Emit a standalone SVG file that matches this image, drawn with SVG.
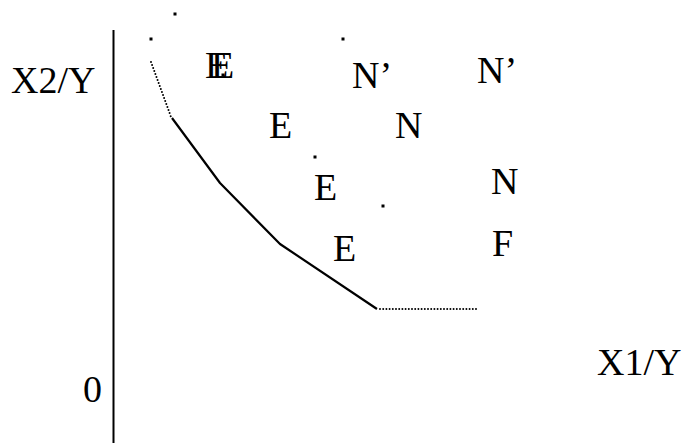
<svg xmlns="http://www.w3.org/2000/svg" width="682" height="443" viewBox="0 0 682 443">
<style>
text{font-family:"Liberation Serif","Times New Roman",serif;font-size:38px;fill:#000}
.solid{fill:none;stroke:#000;stroke-width:2.2;stroke-linejoin:round}
.dot{fill:none;stroke:#000;stroke-width:2;stroke-linecap:round;stroke-dasharray:0 3.2}
</style>
<rect width="682" height="443" fill="#fff"/>
<g id="axes">
<line x1="113.5" y1="30" x2="113.5" y2="443" stroke="#000" stroke-width="2"/>
</g>
<g id="labels">
<text x="11" y="93">X2/Y</text>
<text x="83" y="402">0</text>
<text x="597" y="375">X1/Y</text>
</g>
<g id="connectors">
<polyline class="solid" points="172,118 220,183 280,244 377,309"/>
<line class="dot" x1="151" y1="62" x2="171" y2="117"/>
<line class="dot" x1="380" y1="309" x2="477" y2="309"/>
</g>
<g id="points">
<rect x="173.5" y="12.5" width="3" height="3"/>
<rect x="149.5" y="37.5" width="3" height="3"/>
<rect x="341.5" y="37.5" width="3" height="3"/>
<rect x="313.5" y="155.5" width="3" height="3"/>
<rect x="381.5" y="204.5" width="3" height="3"/>
<rect x="221.5" y="73.5" width="3" height="3"/>
</g>
<g id="letters">
<text x="205" y="78">E</text>
<text x="211" y="78">E</text>
<text x="352" y="88">N’</text>
<text x="477" y="83">N’</text>
<text x="269" y="138">E</text>
<text x="395" y="138">N</text>
<text x="314" y="200">E</text>
<text x="333" y="261">E</text>
<text x="491" y="194">N</text>
<text x="492" y="256">F</text>
</g>
</svg>
